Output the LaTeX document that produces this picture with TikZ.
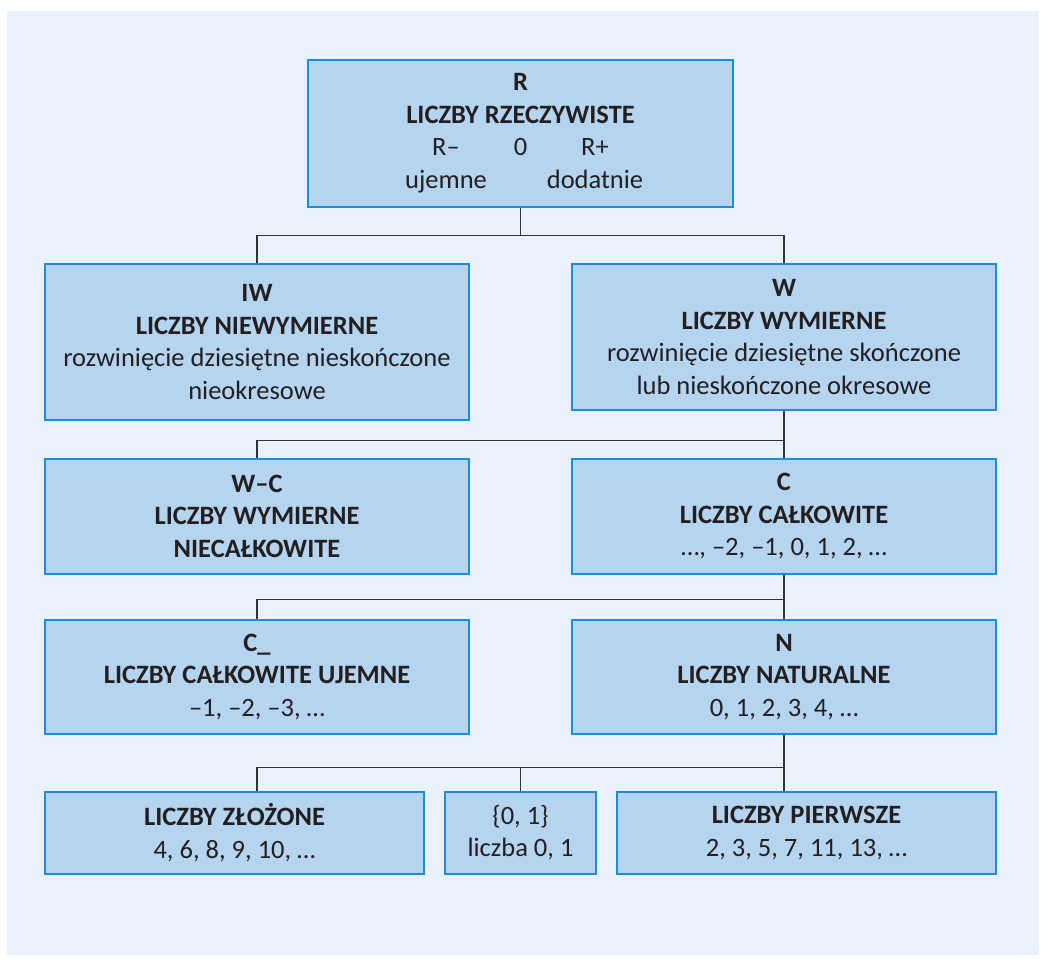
\documentclass[tikz,border=0pt]{standalone}
\usepackage{fontspec}
\setmainfont{Carlito}
\definecolor{bgblue}{HTML}{E9F1FA}
\definecolor{boxfill}{HTML}{B5D4F0}
\definecolor{boxline}{HTML}{1A8FD8}
\definecolor{linegray}{HTML}{333333}
\definecolor{textdark}{HTML}{231F20}
\tikzstyle{box}=[rectangle,draw=boxline,fill=boxfill,line width=1.5pt,
  			  anchor=north,align=center,inner sep=0pt,text=textdark]
\tikzstyle{wide}=[box,minimum width=424pt]
\tikzstyle{line}=[draw=linegray,line width=1.3pt]

\begin{document}
\begin{tikzpicture}[x=1pt,y=1pt,font=\fontsize{26.5}{32.5}\selectfont]
	\useasboundingbox (0,0) rectangle (1049,-969);
	\fill[bgblue] (7,-11) rectangle (1039,-955);

	\node[box,minimum width=425pt,minimum height=147pt] (R) at (520.5,-59)
		{\textbf{R}\\ \textbf{LICZBY RZECZYWISTE}\\
		\makebox[149pt]{R–}\makebox[0pt]{0}\makebox[149pt]{R+}\\
		\makebox[149pt]{ujemne}\makebox[149pt]{dodatnie}};
	\node[wide,minimum height=156pt] (IW) at (257,-263)
		{\textbf{IW}\\ \textbf{LICZBY NIEWYMIERNE}\\
		rozwinięcie dziesiętne nieskończone\\ nieokresowe};
	\node[wide,minimum height=146pt] (W) at (784,-263)
		{\textbf{W}\\ \textbf{LICZBY WYMIERNE}\\
		rozwinięcie dziesiętne skończone\\ lub nieskończone okresowe};
	\node[wide,minimum height=115pt] (WC) at (257,-458)
		{\textbf{W–C}\\ \textbf{LICZBY WYMIERNE}\\ \textbf{NIECAŁKOWITE}};
	\node[wide,minimum height=115pt] (C) at (784,-458)
		{\textbf{C}\\ \textbf{LICZBY CAŁKOWITE}\\ …, –2, –1, 0, 1, 2, …};
	\node[wide,minimum height=114pt] (CU) at (257,-619)
		{\textbf{C\_}\\ \textbf{LICZBY CAŁKOWITE UJEMNE}\\ –1, –2, –3, …};
	\node[wide,minimum height=114pt] (N) at (784,-619)
		{\textbf{N}\\ \textbf{LICZBY NATURALNE}\\ 0, 1, 2, 3, 4, …};
	\node[box,minimum width=379pt,minimum height=82pt] (ZL) at (234.5,-791)
		{\textbf{LICZBY ZŁOŻONE}\\ 4, 6, 8, 9, 10, …};
	\node[box,minimum width=151pt,minimum height=82pt] (ZO) at (520.5,-791)
		{\{0, 1\}\\ liczba 0, 1};
	\node[box,minimum width=379pt,minimum height=82pt] (PR) at (806.5,-791)
		{\textbf{LICZBY PIERWSZE}\\ 2, 3, 5, 7, 11, 13, …};

	\draw[line] (R.south) -- ++(0,-28) coordinate (b1);
	\draw[line] (b1) -| (IW.north);
	\draw[line] (b1) -| (W.north);

	\draw[line] (W.south) -- (C.north);
	\draw[line] (W.south) ++(0,-30) -| (WC.north);

	\draw[line] (C.south) -- (N.north);
	\draw[line] (C.south) ++(0,-25) -| (CU.north);

	\draw[line] (N.south) -- (N.south |- PR.north);
	\draw[line] (N.south) ++(0,-33) coordinate (b4) -| (ZL.north -| CU.south);
	\draw[line] (ZO.north) -- (ZO.north |- b4);
\end{tikzpicture}
\end{document}
